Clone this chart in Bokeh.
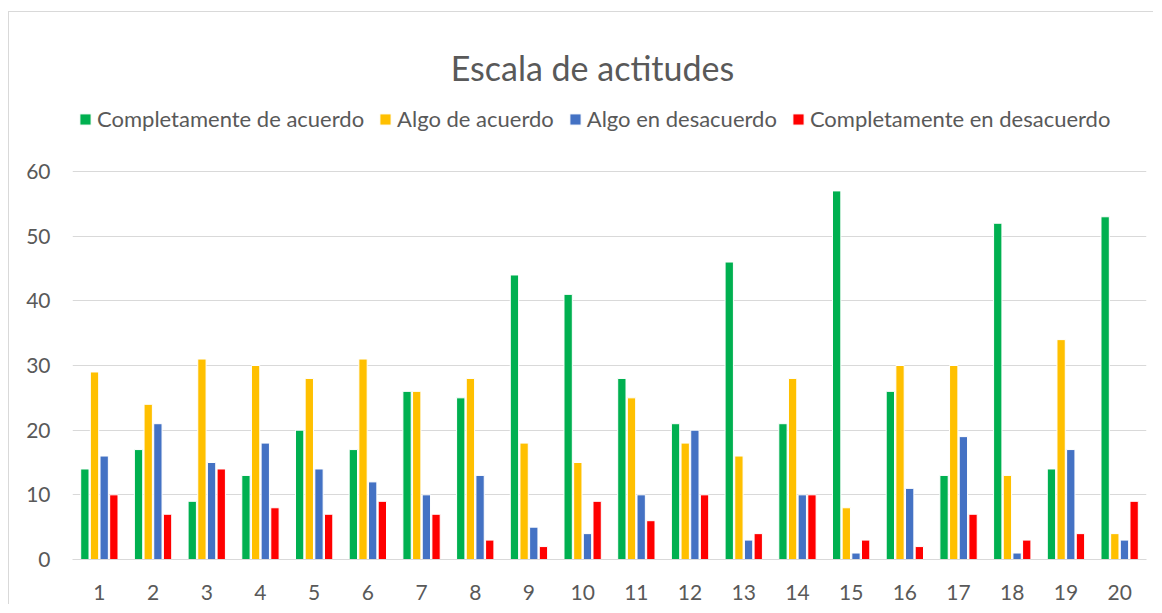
from bokeh.plotting import figure
from bokeh.models import ColumnDataSource, Legend, LegendItem, Label, Range1d
from bokeh.transform import dodge
from bokeh.embed import file_html
from bokeh.resources import INLINE

categories = [str(i) for i in range(1, 21)]
completamente_acuerdo = [14, 17, 9, 13, 20, 17, 26, 25, 44, 41, 28, 21, 46, 21, 57, 26, 13, 52, 14, 53]
algo_acuerdo = [29, 24, 31, 30, 28, 31, 26, 28, 18, 15, 25, 18, 16, 28, 8, 30, 30, 13, 34, 4]
algo_desacuerdo = [16, 21, 15, 18, 14, 12, 10, 13, 5, 4, 10, 20, 3, 10, 1, 11, 19, 1, 17, 3]
completamente_desacuerdo = [10, 7, 14, 8, 7, 9, 7, 3, 2, 9, 6, 10, 4, 10, 3, 2, 7, 3, 4, 9]
series_names = ["Completamente de acuerdo", "Algo de acuerdo", "Algo en desacuerdo", "Completamente en desacuerdo"]
y_ticks = [0, 10, 20, 30, 40, 50, 60]
chart_title = "Escala de actitudes"

FONT = "Lato"
TXT = "#595959"
colors = ["#00B050", "#FFC000", "#4472C4", "#FF0000"]
offsets = [-0.27, -0.09, 0.09, 0.27]

src = ColumnDataSource(dict(cat=categories, s0=completamente_acuerdo, s1=algo_acuerdo,
                            s2=algo_desacuerdo, s3=completamente_desacuerdo))

# frame spans the whole area under the border; the value axis tops out at 60 at the
# gridline, the extra headroom holds the title and legend
p = figure(x_range=categories, y_range=Range1d(0, 84.59), width=1145, height=593,
           output_backend="svg", toolbar_location=None, title=None,
           min_border_left=63, min_border_right=8, min_border_top=0, min_border_bottom=46,
           margin=(11, 0, 0, 8),
           styles={"border-left": "1px solid #d9d9d9", "border-top": "1px solid #d9d9d9"})
p.outline_line_color = None
p.background_fill_color = "white"
p.border_fill_color = "white"

renderers = []
for i, key in enumerate(["s0", "s1", "s2", "s3"]):
    r = p.vbar(x=dodge("cat", offsets[i], range=p.x_range), top=key, width=0.155, source=src,
               fill_color=colors[i], line_color="white", line_width=1)
    renderers.append(r)

p.yaxis.ticker = y_ticks
p.yaxis.axis_line_color = None
p.yaxis.major_tick_line_color = None
p.yaxis.minor_tick_line_color = None
p.yaxis.major_tick_out = 0
p.yaxis.major_label_standoff = 22
p.yaxis.major_label_text_font = FONT
p.yaxis.major_label_text_font_size = "21px"
p.yaxis.major_label_text_color = TXT

p.xaxis.axis_line_color = "#d9d9d9"
p.xaxis.major_tick_line_color = None
p.xaxis.minor_tick_line_color = None
p.xaxis.major_tick_out = 0
p.xaxis.major_label_standoff = 25
p.xaxis.major_label_text_font = FONT
p.xaxis.major_label_text_font_size = "21px"
p.xaxis.major_label_text_color = TXT

p.xgrid.grid_line_color = None
p.ygrid.grid_line_color = "#d9d9d9"
p.ygrid.grid_line_width = 1

legend = Legend(items=[LegendItem(label=series_names[i], renderers=[renderers[i]]) for i in range(4)],
                orientation="horizontal", location=(6, 427),
                label_text_font=FONT, label_text_font_size="22px", label_text_color=TXT,
                glyph_width=14, glyph_height=14, label_standoff=5, spacing=14,
                padding=0, margin=0, border_line_color=None, background_fill_alpha=0)
p.add_layout(legend, "center")

title = Label(x=9.683, y=76.08, text=chart_title,
              text_font=FONT, text_font_size="34px", text_color=TXT, text_align="center",
              text_baseline="alphabetic")
p.add_layout(title)

open("out.html", "w").write(file_html(p, INLINE))
